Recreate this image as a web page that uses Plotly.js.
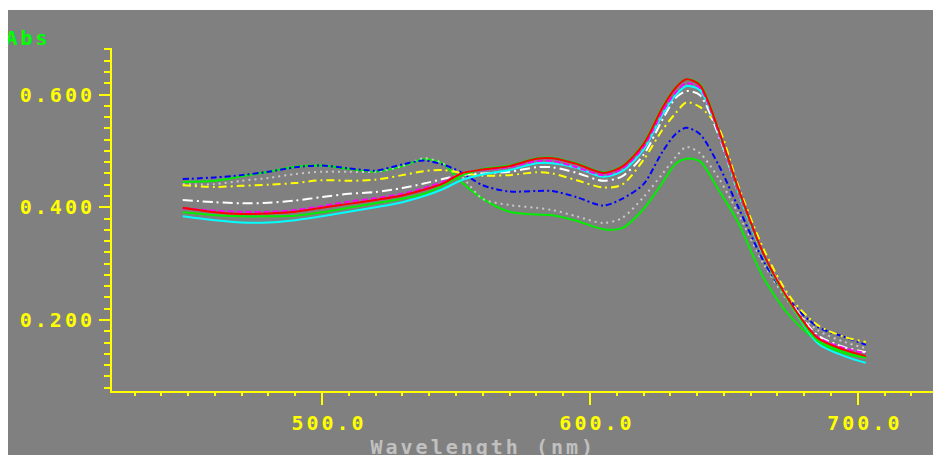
<!DOCTYPE html>
<html>
<head>
<meta charset="utf-8">
<script src="https://cdn.plot.ly/plotly-3.0.1.min.js"></script>
<style>
  html, body { margin: 0; padding: 0; background: #ffffff; width: 933px; height: 455px; overflow: hidden; }
  #plot { position: absolute; left: 8px; top: 10px; width: 925px; height: 445px; }
  #plot text { letter-spacing: 3px; }
</style>
</head>
<body>
<div id="plot"></div>
<script>
// Wavelength nodes (nm)
const wavelength = [448, 460, 470, 480, 490, 500, 510, 520, 530, 538, 545, 552, 560, 570, 580, 586, 595, 605, 612, 620, 627, 632, 636, 641, 648, 655, 665, 675, 685, 695, 703];

// Absorbance series
const absGreenA = [0.445,0.447,0.455,0.463,0.472,0.474,0.468,0.463,0.473,0.485,0.478,0.445,0.415,0.392,0.387,0.386,0.376,0.361,0.363,0.397,0.443,0.477,0.486,0.482,0.431,0.376,0.273,0.205,0.163,0.145,0.136];
const absGray    = [0.441,0.441,0.447,0.452,0.459,0.463,0.463,0.463,0.473,0.487,0.478,0.455,0.415,0.404,0.399,0.395,0.384,0.372,0.381,0.418,0.459,0.489,0.507,0.496,0.452,0.392,0.298,0.227,0.182,0.161,0.150];
const absBlue    = [0.450,0.453,0.457,0.463,0.471,0.474,0.469,0.465,0.476,0.483,0.476,0.462,0.439,0.428,0.429,0.429,0.418,0.403,0.415,0.441,0.498,0.530,0.541,0.530,0.475,0.404,0.303,0.232,0.188,0.170,0.156];
const absYellow  = [0.439,0.436,0.438,0.440,0.443,0.448,0.447,0.449,0.457,0.464,0.466,0.461,0.456,0.457,0.462,0.460,0.448,0.435,0.440,0.484,0.537,0.567,0.586,0.578,0.541,0.443,0.324,0.239,0.191,0.170,0.161];
const absWhite   = [0.413,0.409,0.407,0.408,0.412,0.418,0.424,0.427,0.434,0.442,0.450,0.457,0.460,0.463,0.471,0.471,0.461,0.447,0.455,0.493,0.555,0.594,0.606,0.599,0.528,0.431,0.314,0.232,0.173,0.152,0.143];
const absCyan    = [0.384,0.377,0.373,0.373,0.377,0.384,0.392,0.400,0.409,0.420,0.432,0.448,0.458,0.466,0.478,0.478,0.470,0.454,0.464,0.502,0.564,0.599,0.615,0.608,0.533,0.431,0.312,0.227,0.159,0.136,0.124];
const absMagenta = [0.398,0.394,0.392,0.392,0.395,0.402,0.410,0.416,0.424,0.434,0.445,0.459,0.466,0.471,0.482,0.482,0.471,0.457,0.468,0.507,0.569,0.604,0.620,0.612,0.533,0.432,0.314,0.228,0.170,0.150,0.141];
const absGreenB  = [0.391,0.386,0.384,0.384,0.385,0.391,0.399,0.407,0.415,0.424,0.438,0.456,0.468,0.474,0.487,0.488,0.478,0.462,0.473,0.514,0.578,0.613,0.627,0.619,0.537,0.436,0.314,0.227,0.163,0.141,0.133];
const absRed     = [0.399,0.391,0.388,0.389,0.392,0.399,0.406,0.413,0.421,0.431,0.442,0.460,0.467,0.473,0.486,0.487,0.477,0.461,0.472,0.512,0.576,0.612,0.627,0.617,0.537,0.438,0.315,0.230,0.168,0.147,0.136];

const yTicks = [0.2, 0.4, 0.6];
const xTicks = [500, 600, 700];
const yLabel = 'Abs';
const xLabel = 'Wavelength (nm)';

function tr(y, color, dash, width) {
  return {
    x: wavelength, y: y, type: 'scatter', mode: 'lines',
    line: {color: color, width: width || 2, dash: dash, shape: 'spline', smoothing: 0.8},
    hoverinfo: 'skip'
  };
}

const data = [
  tr(absGreenA, '#00ee00', 'solid'),
  tr(absGray, '#c8c8c8', '2px,4px'),
  tr(absBlue, '#0000ff', '6px,3px,2px,3px'),
  tr(absYellow, '#ffff00', '8px,4px,2px,4px'),
  tr(absWhite, '#ffffff', '10px,4px,2px,4px'),
  tr(absCyan, '#00ffff', 'solid'),
  tr(absMagenta, '#ff00ff', '6px,3px'),
  tr(absGreenB, '#00ee00', 'solid'),
  tr(absRed, '#ff0000', 'solid')
];

const axisFont = {family: 'DejaVu Sans Mono, monospace', size: 20, color: '#ffff00', weight: 'bold'};

const layout = {
  width: 925, height: 445,
  margin: {l: 104, r: 0, t: 38, b: 64},
  paper_bgcolor: '#808080',
  plot_bgcolor: '#808080',
  showlegend: false,
  font: axisFont,
  xaxis: {
    range: [421.6, 728.05],
    showline: true, linecolor: '#ffff00', linewidth: 2,
    showgrid: false, zeroline: false,
    ticks: 'outside', ticklen: 12, tickwidth: 2, tickcolor: '#ffff00',
    tickvals: xTicks, tickformat: '.1f',
    tickfont: axisFont,
    ticklabelshift: 7,
    ticklabelstandoff: 1,
    minor: {dtick: 10, tick0: 0, ticks: 'outside', ticklen: 3, tickwidth: 2, tickcolor: '#ffff00', showgrid: false}
  },
  yaxis: {
    range: [0.0741, 0.6825],
    showline: true, linecolor: '#ffff00', linewidth: 2,
    showgrid: false, zeroline: false,
    ticks: 'outside', ticklen: 11, tickwidth: 2, tickcolor: '#ffff00',
    tickvals: yTicks, tickformat: '.3f',
    tickfont: axisFont,
    minor: {dtick: 0.02, tick0: 0, ticks: 'outside', ticklen: 6, tickwidth: 2, tickcolor: '#ffff00', showgrid: false}
  },
  annotations: [
    {text: yLabel, xref: 'paper', yref: 'paper', x: -0.1267, y: 1.0306, xanchor: 'left', yanchor: 'middle',
     showarrow: false, font: {family: 'DejaVu Sans Mono, monospace', size: 20, color: '#00ff00', weight: 'bold'}},
    {text: xLabel, xref: 'paper', yref: 'paper', x: 0.4525, y: -0.1633, xanchor: 'center', yanchor: 'middle',
     showarrow: false, font: {family: 'DejaVu Sans Mono, monospace', size: 20, color: '#c0c0c0', weight: 'bold'}}
  ]
};

Plotly.newPlot('plot', data, layout, {displayModeBar: false, staticPlot: true});
</script>
</body>
</html>
